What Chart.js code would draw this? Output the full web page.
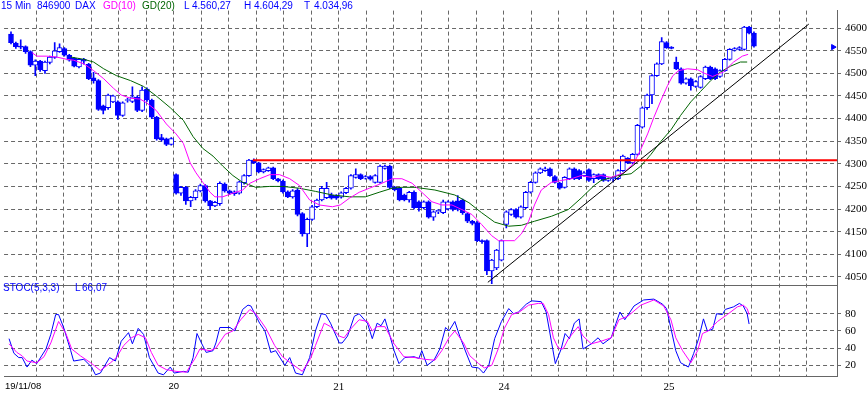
<!DOCTYPE html>
<html>
<head>
<meta charset="utf-8">
<script src="https://cdn.jsdelivr.net/npm/chart.js@4.4.1/dist/chart.umd.min.js"></script>
<style>
    html, body { margin: 0; padding: 0; background: #fff; }
    #wrap { position: relative; width: 868px; height: 394px; overflow: hidden; }
    #c { position: absolute; left: 0; top: 0; }
    .lbl { position: absolute; font: 10px "Liberation Sans", Arial, sans-serif; color: #0000ff; white-space: nowrap; line-height: 12px; }
</style>
</head>
<body>
<div id="wrap">
    <canvas id="c" width="868" height="394"></canvas>
    <div class="lbl" style="left:1px;top:0">15 Min</div>
    <div class="lbl" style="left:37px;top:0">846900</div>
    <div class="lbl" style="left:75px;top:0">DAX</div>
    <div class="lbl" style="left:103px;top:0;color:#ff00ff">GD(10)</div>
    <div class="lbl" style="left:142px;top:0;color:#006400">GD(20)</div>
    <div class="lbl" style="left:184px;top:0">L</div>
    <div class="lbl" style="left:192px;top:0">4.560,27</div>
    <div class="lbl" style="left:244px;top:0">H</div>
    <div class="lbl" style="left:254px;top:0">4.604,29</div>
    <div class="lbl" style="left:304px;top:0">T</div>
    <div class="lbl" style="left:314px;top:0">4.034,96</div>
    <div class="lbl" style="left:3px;top:282px">STOC(5,3,3)</div>
    <div class="lbl" style="left:75px;top:282px">L</div>
    <div class="lbl" style="left:82px;top:282px">66,07</div>
</div>
<script>
// 15 minute bars, 19/11/08 .. 25/11/08, one slot per bar (34 per day)
const open = [4587,4567,4560,4559,4548,4518,4527,4506,4524,4535,4548,4555,4540,4533,4514,4531,4520,4490,4484,4428,4424,4437,4437,4407,4440,4438,4447,4418,4465,4441,4403,4358,4355,4343,
    4276,4235,4248,4218,4225,4240,4252,4218,4207,4212,4255,4240,4234,4235,4258,4274,4308,4302,4282,4285,4291,4267,4262,4238,4227,4242,4190,4145,4177,4205,4220,4225,4231,4230,
    4226,4236,4246,4270,4276,4268,4272,4259,4259,4290,4295,4248,4246,4231,4220,4237,4216,4203,4216,4182,4194,4192,4200,4216,4218,4220,4190,4173,4170,4130,4130,4063,4070,4087,
    4166,4188,4199,4182,4203,4237,4259,4280,4285,4289,4272,4257,4248,4267,4289,4285,4274,4287,4267,4276,4276,4263,4267,4267,4285,4312,4302,4321,4381,4424,4452,4495,4521,4568,4558,
    4525,4510,4478,4488,4471,4469,4488,4514,4510,4493,4506,4531,4551,4553,4553,4602,4589];
const high = [4592,4569,4574,4561,4550,4530,4529,4527,4538,4568,4565,4557,4542,4535,4533,4533,4522,4502,4486,4430,4454,4452,4439,4437,4445,4470,4450,4470,4468,4443,4405,4365,4357,4358,
    4278,4250,4250,4228,4243,4255,4254,4219,4217,4260,4258,4242,4240,4262,4276,4310,4311,4303,4289,4293,4293,4268,4264,4240,4243,4245,4192,4180,4208,4222,4250,4259,4235,4232,
    4238,4248,4276,4289,4278,4274,4274,4276,4297,4297,4297,4250,4248,4233,4239,4240,4218,4218,4218,4196,4199,4220,4218,4218,4230,4222,4192,4175,4172,4132,4132,4089,4111,4132,
    4196,4201,4201,4207,4239,4261,4282,4291,4293,4291,4274,4259,4272,4291,4291,4287,4283,4289,4278,4278,4278,4269,4272,4287,4319,4314,4323,4387,4426,4454,4497,4523,4579,4570,4559,
    4536,4512,4490,4490,4484,4495,4516,4516,4512,4508,4533,4555,4557,4559,4604,4604,4592];
const low = [4565,4555,4554,4544,4515,4495,4504,4500,4521,4533,4546,4538,4527,4514,4512,4520,4486,4478,4418,4410,4420,4435,4398,4405,4436,4435,4415,4415,4438,4400,4352,4350,4340,4341,
    4233,4230,4210,4205,4220,4238,4215,4199,4205,4208,4237,4232,4230,4233,4255,4272,4300,4280,4280,4283,4265,4260,4235,4225,4224,4185,4140,4117,4175,4203,4218,4223,4222,4221,
    4224,4234,4244,4268,4265,4266,4264,4257,4257,4288,4245,4240,4218,4218,4215,4200,4195,4200,4180,4175,4190,4190,4198,4196,4196,4188,4170,4165,4128,4124,4055,4035,4066,4085,
    4158,4186,4180,4180,4201,4235,4257,4278,4283,4272,4257,4244,4246,4265,4265,4265,4272,4261,4258,4265,4261,4261,4260,4265,4283,4300,4300,4319,4379,4420,4433,4493,4519,4555,4554,
    4508,4476,4476,4463,4469,4467,4486,4486,4486,4491,4504,4529,4549,4551,4551,4587,4558];
const close = [4568,4559,4558,4548,4518,4527,4508,4525,4536,4550,4557,4540,4529,4516,4531,4527,4488,4484,4420,4418,4452,4450,4407,4435,4442,4448,4418,4463,4441,4403,4355,4353,4343,4356,
    4235,4248,4218,4226,4240,4252,4218,4207,4215,4257,4240,4235,4238,4260,4274,4308,4302,4282,4287,4291,4267,4262,4238,4227,4240,4188,4145,4177,4205,4220,4246,4246,4224,4224,
    4236,4246,4274,4276,4267,4272,4266,4274,4295,4295,4248,4243,4220,4220,4237,4203,4203,4216,4182,4194,4197,4216,4216,4199,4199,4192,4173,4168,4130,4128,4063,4087,4109,4130,
    4194,4199,4182,4205,4237,4259,4280,4289,4289,4274,4259,4246,4270,4289,4267,4267,4280,4263,4276,4267,4263,4267,4270,4285,4317,4302,4321,4385,4424,4452,4495,4521,4570,4557,4555,
    4510,4478,4488,4473,4482,4493,4514,4488,4488,4506,4531,4553,4555,4557,4602,4589,4560];

// GD(10) and GD(20) (bar position, price)
const gd10X = [4.3,5.3,7.4,9.4,11.5,12.9,15.0,17.0,19.1,21.1,22.7,24.6,26.6,27.9,29.9,32.0,34.0,35.5,36.9,38.1,
    39.5,41.0,42.0,43.6,45.7,47.7,49.2,51.2,53.3,55.3,57.4,59.4,61.5,63.5,66.2,67.8,69.7,71.7,73.8,76.4,
    78.5,80.5,82.6,84.6,86.7,88.7,90.8,92.8,94.9,96.9,99.0,100.4,103.7,105.1,106.6,107.8,109.2,111.3,113.3,115.4,
    117.4,119.5,121.5,123.6,126.2,128.3,129.7,131.1,132.4,133.8,135.2,136.3,137.5,139.3,141.4,142.6,144.5,146.7,148.8,150.6,151.8];
const gd10 = [4546,4538,4538,4536,4531,4529,4521,4506,4488,4467,4452,4445,4443,4435,4418,4388,4366,4345,4302,4280,
    4259,4237,4227,4227,4235,4242,4257,4267,4276,4276,4267,4252,4220,4209,4205,4209,4224,4237,4246,4257,
    4267,4267,4257,4237,4216,4209,4209,4199,4188,4166,4141,4130,4130,4145,4173,4209,4242,4259,4263,4267,
    4274,4270,4274,4270,4280,4302,4332,4366,4403,4439,4473,4495,4506,4510,4508,4501,4493,4503,4525,4538,4542];
const gd20X = [12.3,15.0,17.0,19.1,21.7,24.6,27.3,29.9,32.8,35.5,37.5,39.5,41.6,43.6,45.7,47.7,50.4,53.3,55.9,59.4,
    62.7,66.2,69.7,73.0,75.8,78.5,80.5,83.2,87.3,91.4,94.3,96.9,99.6,102.5,105.1,107.8,111.3,114.8,117.4,120.1,
    121.5,125.0,127.7,129.7,131.8,133.8,135.9,137.9,140.0,142.0,144.1,146.1,148.2,150.2,151.6];
const gd20 = [4536,4531,4525,4510,4495,4484,4471,4450,4424,4396,4360,4334,4317,4295,4274,4259,4248,4250,4250,4246,
    4239,4231,4227,4227,4237,4246,4248,4248,4242,4231,4214,4192,4171,4162,4164,4173,4184,4199,4224,4252,
    4263,4274,4278,4295,4321,4349,4375,4407,4437,4460,4484,4503,4516,4525,4525];

// hand drawn lines
const trendX = [98.2, 164.3];
const trendY = [4038, 4609];
const resistX = [49.8, 170.1];
const resistY = [4308, 4308];
const lastX = [169.3];
const lastY = [4558];

// STOC(5,3,3)
const stocKX = [-0.4,0.6,1.6,2.3,3.3,4.3,5.3,7.2,8.2,9.2,9.8,10.9,12.3,12.9,15.0,16.6,17.4,18.4,20.3,21.5,
    22.7,24.2,25.0,26.2,27.3,28.5,30.3,31.4,32.8,33.6,35.5,36.5,37.5,38.3,39.3,40.2,41.6,42.2,43.0,45.1,
    46.1,47.7,48.8,49.4,51.2,52.3,53.5,54.5,56.4,57.4,58.6,60.0,61.5,62.7,63.9,64.8,65.8,67.6,68.2,69.3,
    70.7,71.7,73.4,74.4,75.4,76.2,77.0,77.9,78.9,79.9,81.1,83.0,84.0,84.6,85.7,87.1,88.3,89.5,90.2,91.4,
    92.4,93.9,94.9,96.3,97.3,98.4,99.6,101.0,102.5,103.5,104.5,106.1,107.2,109.2,110.2,110.9,112.1,113.3,114.1,115.0,
    116.0,117.0,117.8,119.5,120.9,121.9,123.6,124.6,125.4,126.4,128.3,130.3,132.4,134.2,135.0,135.9,136.9,137.9,139.5,140.6,
    141.6,142.6,143.4,144.5,145.3,146.5,147.1,148.8,150.0,150.8,151.6,152.0];
const stocK = [51,34,29,29,18,26,22,39,56,79,79,63,37,25,27,18,9,11,29,25,
    48,58,45,63,56,29,11,9,18,11,13,12,29,57,45,35,37,46,64,64,
    60,85,90,89,69,60,35,37,20,29,11,9,29,60,80,79,69,46,46,54,
    77,80,69,51,69,66,74,57,37,22,29,30,28,37,20,26,39,64,60,71,
    54,32,18,17,11,20,51,71,86,80,82,91,95,94,82,60,22,39,57,51,
    69,74,39,45,52,45,52,69,82,73,89,96,97,91,86,63,37,23,18,34,
    51,74,60,62,80,79,85,88,92,89,80,68];
const stocDX = [-0.4,1.2,2.3,3.3,5.3,6.8,8.2,9.8,11.3,12.5,14.3,16.4,18.4,20.5,21.7,23.2,24.8,26.2,27.7,28.9,
    30.3,32.0,34.0,36.1,37.9,38.9,41.0,42.2,44.1,45.7,47.3,49.2,50.4,52.5,54.3,55.9,58.0,60.0,61.7,62.7,
    64.5,65.8,67.6,68.6,69.9,71.7,73.4,74.4,75.4,77.0,78.9,80.9,83.2,85.2,87.3,88.7,90.2,91.4,93.2,94.5,
    96.3,97.5,99.0,100.4,101.6,103.1,104.7,106.6,108.6,109.6,110.7,111.7,112.7,113.7,114.8,116.8,117.8,119.5,121.5,123.6,
    125.2,127.0,129.7,132.4,134.4,135.9,136.9,138.3,140.0,141.4,142.4,143.6,145.5,147.5,149.6,150.8,151.6,152.0];
const stocD = [45,35,31,25,23,30,46,71,57,39,31,23,14,23,29,43,52,56,52,35,
    20,15,13,12,28,39,37,40,56,60,73,85,80,63,43,30,21,13,28,43,
    69,65,54,52,62,73,71,60,65,65,45,30,29,27,26,37,52,60,46,31,
    22,17,20,40,63,79,82,90,92,92,79,52,40,39,51,65,54,45,48,52,
    73,77,90,96,89,73,52,37,23,37,57,60,71,79,88,90,86,79];

// ticks
const dayLabels = ['19/11/08', '20', '21', '24', '25'];
const priceTicks = [4050, 4100, 4150, 4200, 4250, 4300, 4350, 4400, 4450, 4500, 4550, 4600];
const stocTicks = [20, 40, 60, 80];

const BARS_PER_DAY = 34;
const GRID_STEP = BARS_PER_DAY / 6;
const FIRST_LABEL_AT = 2.5;   // keeps the date label inside the left edge
const blue = '#0000ff';
const magenta = '#ff00ff';
const green = '#006400';
const gridColor = '#686868';
const axisColor = '#666666';
const serif = '"Liberation Serif", "Times New Roman", serif';

function pts(xs, ys) {
    return xs.map((x, k) => ({x: x, y: ys[k]}));
}

const isFirstLabel = v => Math.abs(v - FIRST_LABEL_AT) < 0.01;

// solid line between the price pane and the STOC pane
const paneDivider = {
    id: 'paneDivider',
    afterDraw(chart) {
        const ctx = chart.ctx;
        const area = chart.chartArea;
        const y = Math.round(chart.scales.y2.top) + 0.5;
        ctx.save();
        ctx.strokeStyle = axisColor;
        ctx.lineWidth = 1;
        ctx.beginPath();
        ctx.moveTo(area.left, y);
        ctx.lineTo(area.right, y);
        ctx.stroke();
        ctx.restore();
    }
};

const lineDs = (data, color, axis, width) => ({
    type: 'line', data: data, borderColor: color, borderWidth: width || 1,
    pointRadius: 0, tension: 0, fill: false, yAxisID: axis, order: 1
});

const yAxis = (weight, min, max, values) => ({
    position: 'right', stack: 'panes', stackWeight: weight,
    min: min, max: max,
    afterBuildTicks: axis => { axis.ticks = values.map(v => ({value: v})); },
    afterFit: s => { s.width = 31; },
    grid: {color: gridColor, tickColor: gridColor, tickLength: 4},
    border: {display: true, color: axisColor, dash: [4, 3]},
    ticks: {
        autoSkip: false, padding: 4, color: '#000',
        font: {family: serif, size: 11},
        callback: v => String(v)
    }
});

new Chart(document.getElementById('c'), {
    type: 'bar',
    data: {
        datasets: [
            Object.assign(lineDs(pts(resistX, resistY), '#ff0000', 'y', 2), {order: 0}),
            Object.assign(lineDs(pts(trendX, trendY), '#000000', 'y'), {order: 0}),
            lineDs(pts(gd10X, gd10), magenta, 'y'),
            lineDs(pts(gd20X, gd20), green, 'y'),
            lineDs(pts(stocKX, stocK), blue, 'y2'),
            Object.assign(lineDs(pts(stocDX, stocD), magenta, 'y2'), {order: 0}),
            {
                type: 'line', data: pts(lastX, lastY), showLine: false, yAxisID: 'y', order: 0,
                pointStyle: 'triangle', rotation: 90, pointRadius: 3,
                pointBackgroundColor: blue, pointBorderColor: blue, pointBorderWidth: 1
            },
            {
                label: 'body', data: close.map((c, i) => ({x: i, y: [open[i], c]})),
                yAxisID: 'y', grouped: false, barThickness: 5, borderWidth: 1,
                borderSkipped: false, borderColor: blue,
                backgroundColor: ctx => close[ctx.dataIndex] >= open[ctx.dataIndex] ? '#ffffff' : blue,
                order: 5
            },
            {
                label: 'wick', data: close.map((c, i) => ({x: i, y: [low[i], high[i]]})),
                yAxisID: 'y', grouped: false, barThickness: 1, borderWidth: 0,
                backgroundColor: blue, order: 6
            }
        ]
    },
    options: {
        responsive: false,
        devicePixelRatio: 1,
        animation: false,
        layout: {padding: 0, autoPadding: false},
        plugins: {legend: {display: false}, tooltip: {enabled: false}},
        scales: {
            x: {
                type: 'linear', min: -1.43, max: 170.1, offset: false,
                afterBuildTicks: axis => {
                    const t = [{value: FIRST_LABEL_AT}];
                    for (let k = 1; k <= 29; k++) t.push({value: -0.5 + k * GRID_STEP});
                    t.sort((a, b) => a.value - b.value);
                    axis.ticks = t;
                },
                afterFit: s => { s.height = 18; },
                grid: {
                    color: ctx => (ctx.tick && isFirstLabel(ctx.tick.value)) ? 'rgba(0,0,0,0)' : gridColor,
                    lineWidth: 1, drawTicks: false, offset: false
                },
                border: {display: true, color: axisColor, dash: [4, 3]},
                ticks: {
                    autoSkip: false, maxRotation: 0, padding: 5, color: '#000',
                    font: ctx => (ctx.tick && ctx.tick.value < 40)
                        ? {family: '"Liberation Sans", Arial, sans-serif', size: 9.5}
                        : {family: serif, size: 11},
                    callback: value => {
                        if (isFirstLabel(value)) return dayLabels[0];
                        const k = Math.round((value + 0.5) / GRID_STEP);
                        return k % 6 === 0 ? dayLabels[k / 6] : '';
                    }
                }
            },
            y: yAxis(282, 4032.8, 4638.7, priceTicks),
            y2: yAxis(94, 7.6, 113.8, stocTicks)
        }
    },
    plugins: [paneDivider]
});
</script>
</body>
</html>
